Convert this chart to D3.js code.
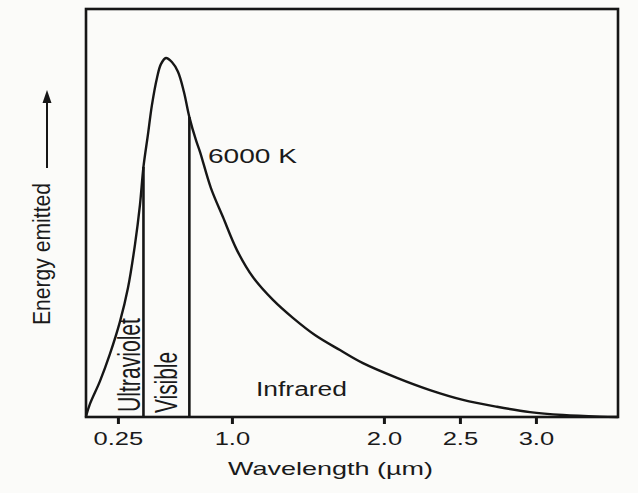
<!DOCTYPE html>
<html><head><meta charset="utf-8">
<script src="https://cdn.jsdelivr.net/npm/d3@7"></script>
<style>
html,body{margin:0;padding:0;background:#fbfbf9;}
svg{display:block;}
text{font-family:"Liberation Sans",Arial,Helvetica,sans-serif;fill:#1a1a1a;}
</style></head><body>
<svg id="chart" width="638" height="493"></svg>
<script>
// ---- data ----
const wavelength = [0.039,0.066,0.132,0.197,0.263,0.316,0.362,0.395,0.418,0.447,0.474,0.507,0.533,0.566,
  0.605,0.645,0.684,0.72,0.763,0.790,0.862,0.941,1.033,1.138,1.270,1.401,1.546,1.711,1.862,2.086,2.303,2.520,2.744,2.961,3.178,3.421,3.54];
const energy = [0,3.2,8.8,15.4,23.3,31.6,42.2,52.0,61.3,69.1,76.5,83.1,86.5,88.0,
  87.0,84.6,79.7,73.5,67.9,65.0,56.1,49.0,40.9,34.3,28.7,24.3,20.1,16.4,13.2,9.6,6.6,4.2,2.5,1.2,0.5,0.1,0];
const tickValues = [0.25, 1.0, 2.0, 2.5, 3.0];
const tickLabels = ["0.25", "1.0", "2.0", "2.5", "3.0"];
const bandBoundaries = [0.418, 0.72];
const boundaryEnergy = [61.3, 73.5];
const bandLabels = ["Ultraviolet", "Visible", "Infrared"];
const curveLabel = "6000 K";
const xTitle = "Wavelength (µm)";
const yTitle = "Energy emitted";

// ---- layout ----
const plotL = 86, plotR = 618, plotT = 9, plotB = 417;
const ink = "#161616";
const svg = d3.select("#chart");

const x = d3.scaleLinear().domain([0.04, 3.54]).range([plotL, plotR]);
const y = d3.scaleLinear().domain([0, 100]).range([plotB, plotT]);

// frame
svg.append("rect").attr("x", plotL).attr("y", plotT)
  .attr("width", plotR - plotL).attr("height", plotB - plotT)
  .attr("fill", "none").attr("stroke", ink).attr("stroke-width", 2.6);

// axis
const ax = svg.append("g").attr("transform", `translate(0,${plotB})`)
  .call(d3.axisBottom(x).tickValues(tickValues).tickFormat((d, i) => tickLabels[i])
    .tickSize(7).tickPadding(8));
ax.select(".domain").remove();
ax.selectAll(".tick line").attr("stroke", ink).attr("stroke-width", 3);
ax.selectAll(".tick text").attr("font-size", 18).attr("fill", "#1a1a1a")
  .style("font-family", '"Liberation Sans",Arial,sans-serif')
  .attr("transform", "scale(1.42,1)");

// curve
const pts = wavelength.map((w, i) => [w, energy[i]]);
const line = d3.line().x(d => x(d[0])).y(d => y(d[1])).curve(d3.curveCatmullRom.alpha(0.5));
svg.append("path").datum(pts).attr("d", line)
  .attr("fill", "none").attr("stroke", ink).attr("stroke-width", 2.4);

// band boundaries
svg.selectAll(".bound").data(bandBoundaries).join("line").attr("class", "bound")
  .attr("x1", d => x(d)).attr("x2", d => x(d))
  .attr("y1", y(0)).attr("y2", (d, i) => y(boundaryEnergy[i]))
  .attr("stroke", ink).attr("stroke-width", 2.6);

function hText(str, tx, ty, size, len) {
  svg.append("text").attr("x", tx).attr("y", ty).attr("font-size", size)
    .attr("textLength", len).attr("lengthAdjust", "spacingAndGlyphs").text(str);
}
function vText(str, bx, by, size, len, sx, anchor) {
  svg.append("text").attr("transform", `translate(${bx},${by}) scale(${sx},1) rotate(-90)`)
    .attr("font-size", size).attr("text-anchor", anchor || "start")
    .attr("textLength", len).attr("lengthAdjust", "spacingAndGlyphs").text(str);
}

hText(curveLabel, 208, 163, 20, 89);
hText(bandLabels[2], 256, 396, 20, 91);
hText(xTitle, 228, 475, 18.5, 205);
vText(bandLabels[0], 140, 412, 21, 94, 1.45);
vText(bandLabels[1], 177, 413, 21, 61, 1.45);
vText(yTitle, 50, 325, 21, 142, 1.15);

// y arrow
svg.append("line").attr("x1", 47).attr("x2", 47).attr("y1", 168).attr("y2", 98)
  .attr("stroke", ink).attr("stroke-width", 2);
svg.append("path").attr("d", "M47,90 L42.5,103 L51.5,103 Z").attr("fill", ink);
</script>
</body></html>
